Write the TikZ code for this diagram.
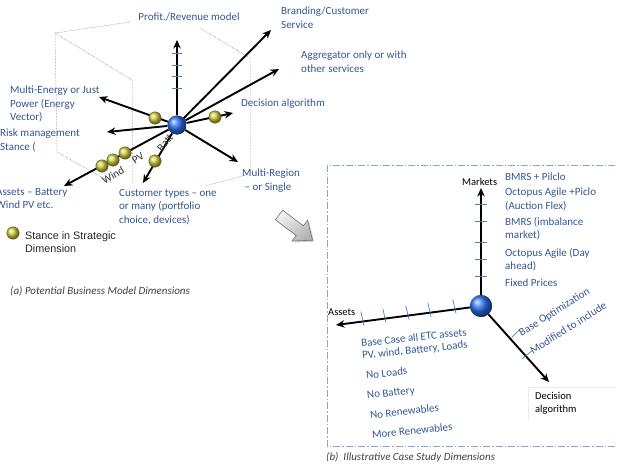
\documentclass[tikz,border=0pt]{standalone}
\usepackage{fontspec}
\setmainfont{Carlito}
\newfontfamily\arialf{Liberation Sans}
\usetikzlibrary{arrows.meta}
\definecolor{lblue}{RGB}{52,86,145}
\definecolor{tickblue}{RGB}{70,130,200}
\definecolor{boxblue}{RGB}{140,165,200}
\definecolor{cubegray}{RGB}{110,110,110}
\begin{document}
\begin{tikzpicture}[x=1pt,y=-1pt,
 lbl/.style={text=lblue, font=\fontsize{11}{13.5}\selectfont, inner sep=0pt, align=left},
 blk/.style={text=black, font=\fontsize{10.5}{13.5}\selectfont, inner sep=0pt, align=left},
 axis/.style={line width=1.9pt, -{Stealth[length=8.5pt,width=7.5pt]}},
 cube/.style={densely dotted, cubegray, line width=0.5pt},
 tickl/.style={tickblue, line width=0.7pt},
 capt/.style={text=black!75, font=\fontsize{11}{12}\selectfont\itshape, inner sep=0pt},
 stance/.style={circle, inner sep=0pt, minimum size=12.5pt, ball color={rgb,255:red,215;green,210;blue,70}, draw={rgb,255:red,90;green,90;blue,20}, line width=0.3pt},
 hubball/.style={circle, inner sep=0pt, ball color={rgb,255:red,45;green,115;blue,245}},
 rot/.style={text=black!80, font=\fontsize{11}{12}\selectfont, inner sep=0pt}
]
\useasboundingbox (0,0) rectangle (617,463);

% ---------------- left panel ----------------
% cube
\draw[cube] (130,22) -- (55,33) -- (57,152) -- (112,183);
\draw[cube] (55,33) -- (132,80) -- (133,183);
\draw[cube] (200,28) -- (250,58) -- (250,174) -- (205,186);

\node[hubball, minimum size=19pt] (hub) at (177,125) {};
\coordinate (eProfit) at (177,40);
\coordinate (eBrand) at (271,30);
\coordinate (eAggr) at (279,69);
\coordinate (eDec) at (233,113);
\coordinate (eRegion) at (238,162);
\coordinate (eCust) at (143,183);
\coordinate (eAssets) at (64,186);
\coordinate (eRisk) at (107,132);
\coordinate (eMulti) at (99,97);

\foreach \e in {eProfit,eBrand,eAggr,eDec,eRegion,eCust,eAssets,eRisk,eMulti}
  \draw[axis] (hub) -- (\e);

\foreach \yy in {53,65,76,88}
  \draw[tickl] (172,\yy) -- (182,\yy);

\node[rot, rotate=30] (wind) at (113,175) {Wind};
\node[rot, rotate=35] (pv) at (138,158) {PV};
\node[rot, rotate=50] (batt) at (165,143) {Batt};

\node[stance] (s1) at (155,118) {};
\node[stance] (s2) at (215,117) {};
\node[stance] (s3) at (102,166) {};
\node[stance] (s4) at (113,160) {};
\node[stance] (s5) at (125,153) {};
\node[stance] (s6) at (155,161) {};
\node[hubball, minimum size=19pt] (hubtop) at (177,125) {};

\node[lbl, anchor=center] (profit) at (189,17) {Profit./Revenue model};
\node[lbl, anchor=north west] (brand) at (281,7) {Branding/Customer\\Service};
\node[lbl, anchor=north west] (aggr) at (301,51) {Aggregator only or with\\other services};
\node[lbl, anchor=west] (dec) at (241,104) {Decision algorithm};
\node[lbl, anchor=north west] (multie) at (10,86) {Multi-Energy or Just\\Power (Energy\\Vector)};
\node[lbl, anchor=north west] (risk) at (0,129) {Risk management\\Stance (};
\node[lbl, anchor=north west] (assetsA) at (-4,188) {Assets – Battery\\Wind PV etc.};
\node[lbl, anchor=north west] (cust) at (119,189) {Customer types – one\\or many (portfolio\\choice, devices)};
\node[lbl, anchor=north west] (region) at (242,169) {Multi-Region\\\ – or Single};

\node[stance] (legball) at (13,233) {};
\node[blk, anchor=north west, font=\arialf\fontsize{10.8}{13}\selectfont, text=black!85] (legtxt) at (25,231) {Stance in Strategic\\Dimension};
\node[capt, anchor=west] (capa) at (10,291) {(a) Potential Business Model Dimensions};

% gray block arrow
\fill[black!35, opacity=0.5, xshift=1.5pt, yshift=-1.5pt] (275.4,219.8) -- (282.6,210.2) -- (303.4,225.8) -- (307.6,220.2) -- (312.6,240.2) -- (292.0,241.0) -- (296.2,235.4) -- cycle;
\draw[black!55, line width=0.6pt, top color=black!5, bottom color=black!30, shading angle=40] (275.4,219.8) -- (282.6,210.2) -- (303.4,225.8) -- (307.6,220.2) -- (312.6,240.2) -- (292.0,241.0) -- (296.2,235.4) -- cycle;

% ---------------- right panel ----------------
\draw[boxblue, line width=0.9pt, dash pattern=on 7pt off 2pt on 1.5pt off 2pt] (640,165) -- (327,165) -- (327,446) -- (640,446);

\node[hubball, minimum size=22pt] (hub2) at (481,306) {};
\coordinate (eMarkets) at (481,188);
\coordinate (eAssets2) at (336,325);
\coordinate (eDecAlg) at (549,382);
\draw[axis] (hub2) -- (eMarkets);
\draw[axis] (hub2) -- (eAssets2);
\draw[axis] (hub2) -- (eDecAlg);
\node[hubball, minimum size=22pt] (hub2top) at (481,306) {};

\foreach \yy in {204,221,242,259,276}
  \draw[tickl] (475,\yy) -- (487,\yy);
\foreach \x in {363,385,408,430,455}
  \draw[tickl] ({\x-2.2},{306+(481-\x)*0.1319-10}) -- ++(3.2,14);
\draw[tickl] (511.7,337.3) -- (520,329.3);
\draw[tickl] (521.7,359) -- (531.7,351);

\node[blk, anchor=west] (markets) at (462,182) {Markets};
\node[lbl, anchor=west] (m1) at (505,177) {BMRS + Pilclo};
\node[lbl, anchor=north west] (m2) at (505,188) {Octopus Agile +Piclo\\(Auction Flex)};
\node[lbl, anchor=north west] (m3) at (505,217) {BMRS (imbalance\\market)};
\node[lbl, anchor=north west] (m4) at (505,248) {Octopus Agile (Day\\ahead)};
\node[lbl, anchor=west] (m5) at (505,283) {Fixed Prices};

\node[blk, anchor=west] (assetsB) at (328,312) {Assets};
\node[lbl, anchor=west, rotate=6] (a1) at (361,343) {Base Case all ETC assets};
\node[lbl, anchor=west, rotate=6] (a2) at (362,356) {PV, wind, Battery, Loads};
\node[lbl, anchor=west, rotate=6] (a3) at (366,375) {No Loads};
\node[lbl, anchor=west, rotate=6] (a4) at (367,396) {No Battery};
\node[lbl, anchor=west, rotate=6] (a5) at (370,415) {No Renewables};
\node[lbl, anchor=west, rotate=6] (a6) at (372,435) {More Renewables};

\node[lbl, anchor=west, rotate=32] (baseopt) at (520,334) {Base Optimization};
\node[lbl, anchor=west, rotate=32] (modinc) at (531,351) {Modified to include};

\draw[black!8, line width=0.4pt] (640,387) -- (528,387) -- (528,420);
\node[blk, anchor=north west] (decalg) at (535,392) {Decision\\algorithm};

\node[capt, anchor=west] (capb) at (326,457) {(b)\ \ Illustrative Case Study Dimensions};
\end{tikzpicture}
\end{document}
